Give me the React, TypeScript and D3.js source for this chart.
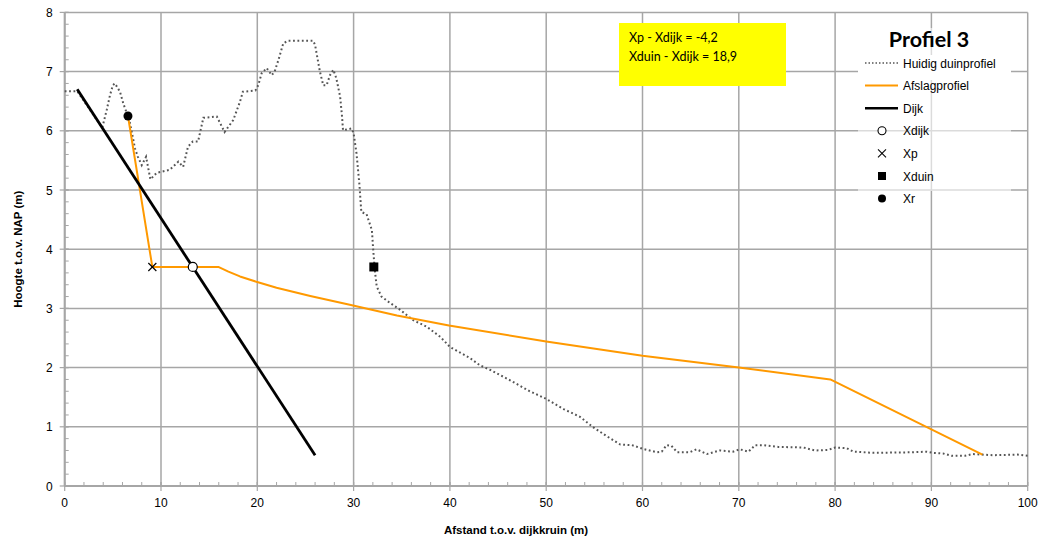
import React from "react";
import * as d3 from "d3";

const duneX = [0,1.3,3.9,4.36,4.7,5.0,5.22,5.74,6.09,6.44,6.78,7.06,7.3,7.6,8.0,8.45,8.65,8.9,9.55,10.9,11.8,12.3,12.8,13.3,13.85,14.4,15.8,16.6,17.5,18.2,18.5,19.8,20.1,20.45,20.97,21.5,21.8,22.2,22.7,23.2,25.8,26.0,26.5,26.85,27.2,27.55,27.9,28.2,28.6,28.8,28.9,29.8,30.0,30.3,30.6,30.8,31.35,31.9,32.05,32.2,32.4,32.9,33.8,34.8,36.2,37.6,39.0,40.0,42.1,43.1,44.2,46.2,48.3,49.9,51.8,53.5,54.9,56.3,57.7,58.9,60.1,61.5,62.0,62.5,63.0,63.6,64.9,65.6,66.7,68.0,69.4,70.1,71.0,71.7,72.5,74.1,76.7,77.9,79.3,80.0,81.2,81.9,84.0,88.1,89.5,90.2,91.2,92.1,93.5,94.3,96.4,98.9,100];
const duneY = [6.67,6.67,6.05,6.35,6.6,6.77,6.8,6.66,6.46,6.3,6.13,5.9,5.7,5.56,5.42,5.56,5.39,5.18,5.29,5.34,5.48,5.39,5.73,5.82,5.82,6.22,6.24,5.98,6.18,6.49,6.66,6.68,6.77,6.97,7.06,6.94,7.0,7.2,7.48,7.52,7.52,7.45,7.0,6.77,6.77,6.94,7.03,6.89,6.58,6.24,6.01,6.04,5.96,5.62,5.1,4.63,4.59,4.32,3.96,3.65,3.37,3.2,3.09,2.98,2.8,2.69,2.52,2.35,2.16,2.04,1.96,1.79,1.6,1.48,1.3,1.17,0.99,0.84,0.7,0.69,0.625,0.57,0.58,0.69,0.68,0.57,0.57,0.62,0.54,0.6,0.58,0.62,0.58,0.69,0.69,0.66,0.65,0.6,0.61,0.65,0.64,0.58,0.56,0.57,0.58,0.56,0.55,0.51,0.51,0.54,0.52,0.53,0.51];

const afslagX = [6.57,9.1,15.95,17.0,18.2,19.9,22.0,25.5,29.6,34.5,39.9,50,60,70,79.5,95.3];
const afslagY = [6.25,3.7,3.7,3.62,3.54,3.45,3.35,3.21,3.06,2.88,2.71,2.44,2.2,2.0,1.8,0.53];

const dijkX = [1.3,26.0];
const dijkY = [6.7,0.52];

const xdijk = [13.3, 3.7];
const xp = [9.1, 3.7];
const xduin = [32.1, 3.7];
const xr = [6.57, 6.25];

const xTicks = [0,10,20,30,40,50,60,70,80,90,100];
const yTicks = [0,1,2,3,4,5,6,7,8];
const infoLines = ["Xp - Xdijk = -4,2", "Xduin - Xdijk = 18,9"];
const legendLabels = ["Huidig duinprofiel","Afslagprofiel","Dijk","Xdijk","Xp","Xduin","Xr"];

const W = 1046, H = 545;
const L = 64.7, R = 1027.7, T = 12.4, B = 486;
const ORANGE = "#FF9900";
const GRID = "#a6a6a6";
const FONT = "'Liberation Sans', Arial, sans-serif";

export default function App() {
  const x = d3.scaleLinear().domain([0, 100]).range([L, R]);
  const y = d3.scaleLinear().domain([0, 8]).range([B, T]);
  const line = d3.line<[number, number]>().x(d => x(d[0])).y(d => y(d[1]));
  const dune = line(duneX.map((v, i) => [v, duneY[i]] as [number, number]));
  const afslag = line(afslagX.map((v, i) => [v, afslagY[i]] as [number, number]));
  const dijk = line(dijkX.map((v, i) => [v, dijkY[i]] as [number, number]));
  const xMinor = d3.range(0, 100.01, 2);
  const yMinor = d3.range(0, 8.001, 0.2);
  const legY0 = 63, legDy = 22.6;
  const lx0 = 865, lx1 = 898, mx = 882, tx = 903;
  return (
    <svg width={W} height={H} style={{ position: "absolute", left: 0, top: 0, background: "#fff" }} fontFamily={FONT}>
      <rect x={0} y={0} width={W} height={H} fill="#fff" />
      {xTicks.map(t => (
        <line key={"gx" + t} x1={x(t)} x2={x(t)} y1={T} y2={B} stroke={GRID} strokeWidth={1.5} />
      ))}
      {yTicks.map(t => (
        <line key={"gy" + t} x1={L} x2={R} y1={y(t)} y2={y(t)} stroke={GRID} strokeWidth={1.5} />
      ))}
      {xMinor.map(t => (
        <line key={"mx" + t} x1={x(t)} x2={x(t)} y1={B} y2={B - 4} stroke={GRID} strokeWidth={1} />
      ))}
      {yMinor.map(t => (
        <line key={"my" + t.toFixed(1)} x1={L} x2={L + 4} y1={y(t)} y2={y(t)} stroke={GRID} strokeWidth={1} />
      ))}
      {xTicks.map(t => (
        <line key={"tx" + t} x1={x(t)} x2={x(t)} y1={B - 4} y2={B + 5} stroke={GRID} strokeWidth={1.2} />
      ))}
      {yTicks.map(t => (
        <line key={"ty" + t} x1={L - 5} x2={L + 4} y1={y(t)} y2={y(t)} stroke={GRID} strokeWidth={1.2} />
      ))}
      <line x1={L} x2={L} y1={T} y2={B} stroke={GRID} strokeWidth={2} />
      <line x1={L} x2={R} y1={B} y2={B} stroke={GRID} strokeWidth={2} />
      {xTicks.map(t => (
        <text key={"lx" + t} x={x(t)} y={B + 21} textAnchor="middle" fontSize={12} fill="#000">{t}</text>
      ))}
      {yTicks.map(t => (
        <text key={"ly" + t} x={L - 12} y={y(t) + 4.5} textAnchor="end" fontSize={12} fill="#000">{t}</text>
      ))}
      <text x={516} y={534} textAnchor="middle" fontSize={11.5} fontWeight="bold">Afstand t.o.v. dijkkruin (m)</text>
      <text transform={`translate(22,${(T + B) / 2}) rotate(-90)`} textAnchor="middle" fontSize={11.5} fontWeight="bold">Hoogte t.o.v. NAP (m)</text>

      {/* legend background */}
      <rect x={858} y={28} width={153} height={163} fill="#fff" opacity={0.6} />
      <rect x={858} y={55} width={153} height={25} fill="#fff" />

      <path d={dune ?? ""} fill="none" stroke="#555" strokeWidth={2} strokeDasharray="1.8 2.6" />
      <path d={afslag ?? ""} fill="none" stroke={ORANGE} strokeWidth={2} strokeLinejoin="round" />
      <path d={dijk ?? ""} fill="none" stroke="#000" strokeWidth={2.8} />

      {/* markers */}
      <circle cx={x(xr[0])} cy={y(xr[1])} r={4.5} fill="#000" />
      <circle cx={x(xdijk[0])} cy={y(xdijk[1])} r={4.5} fill="#fff" stroke="#000" strokeWidth={1.2} />
      <g stroke="#000" strokeWidth={1.2}>
        <line x1={x(xp[0]) - 4} x2={x(xp[0]) + 4} y1={y(xp[1]) - 4} y2={y(xp[1]) + 4} />
        <line x1={x(xp[0]) - 4} x2={x(xp[0]) + 4} y1={y(xp[1]) + 4} y2={y(xp[1]) - 4} />
      </g>
      <rect x={x(xduin[0]) - 4.5} y={y(xduin[1]) - 4.5} width={9} height={9} fill="#000" />

      {/* info box */}
      <rect x={619} y={23} width={167} height={63} fill="#FFFF00" />
      {infoLines.map((s, i) => (
        <text key={s} x={629} y={42 + i * 18.5} fontSize={12.5} fontFamily="Lato, 'Open Sans', sans-serif" fill="#000">{s}</text>
      ))}

      {/* legend */}
      <text x={929} y={47} textAnchor="middle" fontSize={21.5} fontWeight="bold" fontFamily="Lato, 'Open Sans', sans-serif">Profiel 3</text>
      {legendLabels.map((s, i) => (
        <text key={s} x={tx} y={legY0 + i * legDy + 4.5} fontSize={12} fill="#000">{s}</text>
      ))}
      <line x1={lx0} x2={lx1} y1={legY0} y2={legY0} stroke="#555" strokeWidth={1.5} strokeDasharray="1.5 2" />
      <line x1={lx0} x2={lx1} y1={legY0 + legDy} y2={legY0 + legDy} stroke={ORANGE} strokeWidth={2} />
      <line x1={lx0} x2={lx1} y1={legY0 + 2 * legDy} y2={legY0 + 2 * legDy} stroke="#000" strokeWidth={2.5} />
      <circle cx={mx} cy={legY0 + 3 * legDy} r={4} fill="#fff" stroke="#000" strokeWidth={1.1} />
      <g stroke="#000" strokeWidth={1.1}>
        <line x1={mx - 4} x2={mx + 4} y1={legY0 + 4 * legDy - 4} y2={legY0 + 4 * legDy + 4} />
        <line x1={mx - 4} x2={mx + 4} y1={legY0 + 4 * legDy + 4} y2={legY0 + 4 * legDy - 4} />
      </g>
      <rect x={mx - 4} y={legY0 + 5 * legDy - 4} width={8} height={8} fill="#000" />
      <circle cx={mx} cy={legY0 + 6 * legDy} r={4} fill="#000" />
    </svg>
  );
}
